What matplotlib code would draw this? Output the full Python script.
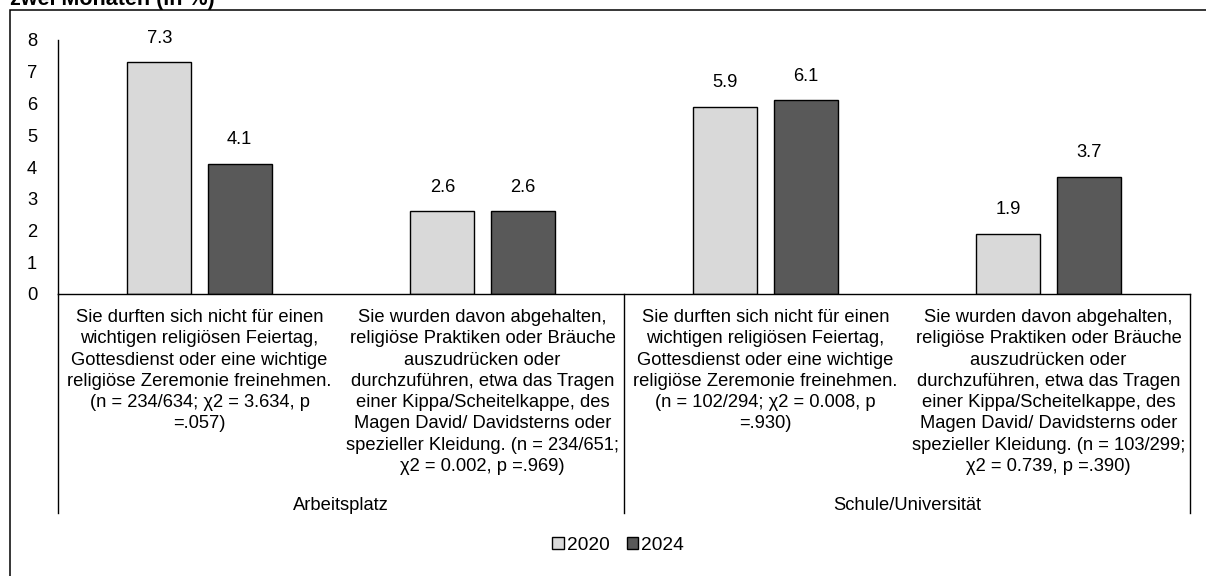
import numpy as np
import matplotlib
matplotlib.use("Agg")
import matplotlib.pyplot as plt
from matplotlib.patches import Rectangle

plt.rcParams['font.family'] = ['Liberation Sans', 'DejaVu Sans']

# data
title = "zwei Monaten (in %)"
categories = [
    "Sie durften sich nicht für einen\nwichtigen religiösen Feiertag,\nGottesdienst oder eine wichtige\n"
    "religiöse Zeremonie freinehmen.\n(n = 234/634; χ2 = 3.634, p\n=.057)",
    "Sie wurden davon abgehalten,\nreligiöse Praktiken oder Bräuche\nauszudrücken oder\n"
    "durchzuführen, etwa das Tragen\neiner Kippa/Scheitelkappe, des\nMagen David/ Davidsterns oder\n"
    "spezieller Kleidung. (n = 234/651;\nχ2 = 0.002, p =.969)",
    "Sie durften sich nicht für einen\nwichtigen religiösen Feiertag,\nGottesdienst oder eine wichtige\n"
    "religiöse Zeremonie freinehmen.\n(n = 102/294; χ2 = 0.008, p\n=.930)",
    "Sie wurden davon abgehalten,\nreligiöse Praktiken oder Bräuche\nauszudrücken oder\n"
    "durchzuführen, etwa das Tragen\neiner Kippa/Scheitelkappe, des\nMagen David/ Davidsterns oder\n"
    "spezieller Kleidung. (n = 103/299;\nχ2 = 0.739, p =.390)",
]
groups = ["Arbeitsplatz", "Schule/Universität"]
series_names = ["2020", "2024"]
vals_2020 = [7.3, 2.6, 5.9, 1.9]
vals_2024 = [4.1, 2.6, 6.1, 3.7]
colors = ["#D9D9D9", "#595959"]

FS = 13.25
W, H = 1206, 576
fig = plt.figure(figsize=(W / 100, H / 100), dpi=100)

# outer frame (runs off right and bottom)
fig.patches.append(Rectangle((10 / W, -0.05), 1.1, (H - 10) / H + 0.05,
                             transform=fig.transFigure, fill=False,
                             edgecolor="black", linewidth=1.1))
# title is cut at the top edge, as in the source
fig.text(10 / W, 1 - 5 / H, title, fontsize=15.5, fontweight="bold",
         ha="left", va="baseline")

ax = fig.add_axes([58 / W, (H - 294) / H, (1190 - 58) / W, (294 - 40) / H])
x = np.arange(len(categories))
bw = 0.226
off = 0.1415
b1 = ax.bar(x - off, vals_2020, bw, color=colors[0], edgecolor="black",
            linewidth=1.0, label=series_names[0])
b2 = ax.bar(x + off, vals_2024, bw, color=colors[1], edgecolor="black",
            linewidth=1.0, label=series_names[1])
for bars in (b1, b2):
    for r in bars:
        ax.annotate(f"{r.get_height():.1f}", (r.get_x() + r.get_width() / 2, r.get_height()),
                    xytext=(0, 17.3), textcoords="offset points",
                    ha="center", va="center", fontsize=FS)

ax.set_xlim(-0.5, len(categories) - 0.5)
ax.set_ylim(0, 8)
ax.set_yticks(range(0, 9))
ax.tick_params(axis="y", length=0, pad=15, labelsize=FS)
ax.set_xticks([])
for s in ("top", "right"):
    ax.spines[s].set_visible(False)
ax.spines["left"].set_linewidth(1.0)
ax.spines["bottom"].set_linewidth(1.0)

# multi-level category axis
tr = ax.get_xaxis_transform()
px = 1 / (294 - 40)
for xb in (-0.5, 1.5, 3.5):
    ax.plot([xb, xb], [0, -(513 - 294) * px], transform=tr, color="black",
            linewidth=1.0, clip_on=False)
for i, lab in enumerate(categories):
    ax.text(i, -15 * px, lab, transform=tr, ha="center", va="top",
            fontsize=FS, linespacing=1.33, multialignment="center")
for g, lab in enumerate(groups):
    ax.text(2 * g + 0.5, -(505 - 294) * px, lab, transform=tr, ha="center",
            va="center", fontsize=FS)

fig.legend(loc="center", bbox_to_anchor=(618 / W, 1 - 545 / H), ncol=2,
           frameon=False, fontsize=13.8, handlelength=0.6, handleheight=0.6,
           handletextpad=0.15, columnspacing=0.9)

fig.savefig("out.png", dpi=100)
